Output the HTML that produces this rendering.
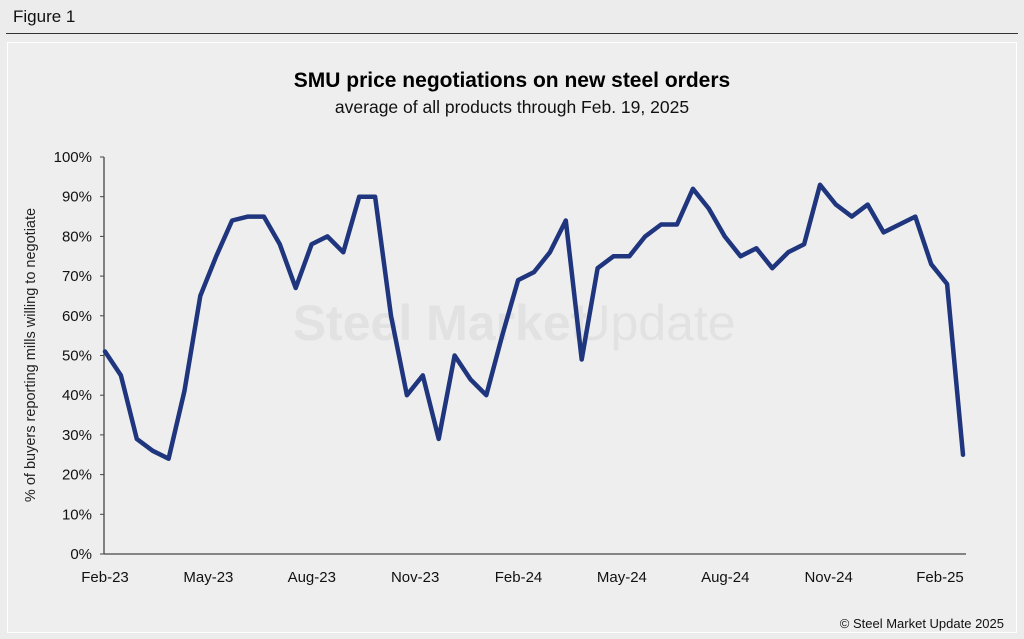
<!DOCTYPE html>
<html><head><meta charset="utf-8"><style>
body{margin:0;width:1024px;height:639px;background:#ececec;font-family:"Liberation Sans",Arial,sans-serif;overflow:hidden;position:relative}
.fig{position:absolute;left:13px;top:7px;font-size:17px;color:#111}
.rule{position:absolute;left:6px;right:6px;top:33px;height:1px;background:#333}
.panel{position:absolute;left:7px;top:42px;right:7px;bottom:6px;border:1px solid #fff;background:#eeeeee}
</style></head><body>
<div class="fig">Figure 1</div>
<div class="rule"></div>
<div class="panel"></div>
<svg id="chart" width="1024" height="639" style="position:absolute;left:0;top:0">
<text x="512" y="87" text-anchor="middle" font-size="21" font-weight="bold" fill="#000">SMU price negotiations on new steel orders</text>
<text x="512" y="113" text-anchor="middle" font-size="17.5" fill="#111">average of all products through Feb. 19, 2025</text>
<text x="440" y="340" text-anchor="middle" font-size="50" font-weight="bold" fill="#e2e2e2">Steel Market</text>
<text x="655" y="340" text-anchor="middle" font-size="50" fill="#e2e2e2">Update</text>
<text transform="translate(35,355) rotate(-90)" text-anchor="middle" font-size="14.5" fill="#222">% of buyers reporting mills willing to negotiate</text>
<g id="axes"></g>
<polyline id="series" fill="none" stroke="#1f357d" stroke-width="4.5" stroke-linejoin="round" stroke-linecap="round"></polyline>
<text x="1004" y="628" text-anchor="end" font-size="13" fill="#111">© Steel Market Update 2025</text>
</svg>
<script>
const values=[51,45,29,26,24,41,65,75,84,85,85,78,67,78,80,76,90,90,60,40,45,29,50,44,40,55,69,71,76,84,49,72,75,75,80,83,83,92,87,80,75,77,72,76,78,93,88,85,88,81,83,85,73,68,25];
const yTicks=[0,10,20,30,40,50,60,70,80,90,100];
const xLabels=["Feb-23","May-23","Aug-23","Nov-23","Feb-24","May-24","Aug-24","Nov-24","Feb-25"];
const xLabelMonths=[0,3,6,9,12,15,18,21,24];
const NS="http://www.w3.org/2000/svg";
const X0=105,X1=963,Y0=554,Y1=157;
const xPos=i=>X0+(X1-X0)*i/(values.length-1);
const yPos=v=>Y0-(Y0-Y1)*v/100;
const monthX=m=>104+m*(931-104)/24;
const ax=document.getElementById('axes');
function mk(t,a){const e=document.createElementNS(NS,t);for(const k in a)e.setAttribute(k,a[k]);ax.appendChild(e);return e;}
const yl=mk('line',{x1:104,y1:Y1,x2:104,y2:Y0,stroke:'#444','stroke-width':1.3});


const xl=mk('line',{x1:104,y1:Y0,x2:966,y2:Y0,stroke:'#444','stroke-width':1.3});


yTicks.forEach(v=>{
 const y=yPos(v);
 mk('line',{x1:100,y1:y,x2:104,y2:y,stroke:'#444'});
 const t=mk('text',{x:92,y:y+5,'text-anchor':'end','font-size':15,fill:'#111'});
 t.textContent=v+'%';
 
 
});
xLabels.forEach((l,i)=>{
 const x=i===xLabels.length-1?940:monthX(xLabelMonths[i])+1;
 const t=mk('text',{x:x,y:582,'text-anchor':'middle','font-size':15,fill:'#111'});
 t.textContent=l;
 
 
});
document.getElementById('series').setAttribute('points',values.map((v,i)=>xPos(i).toFixed(1)+','+yPos(v).toFixed(1)).join(' '));
</script>
</body></html>
